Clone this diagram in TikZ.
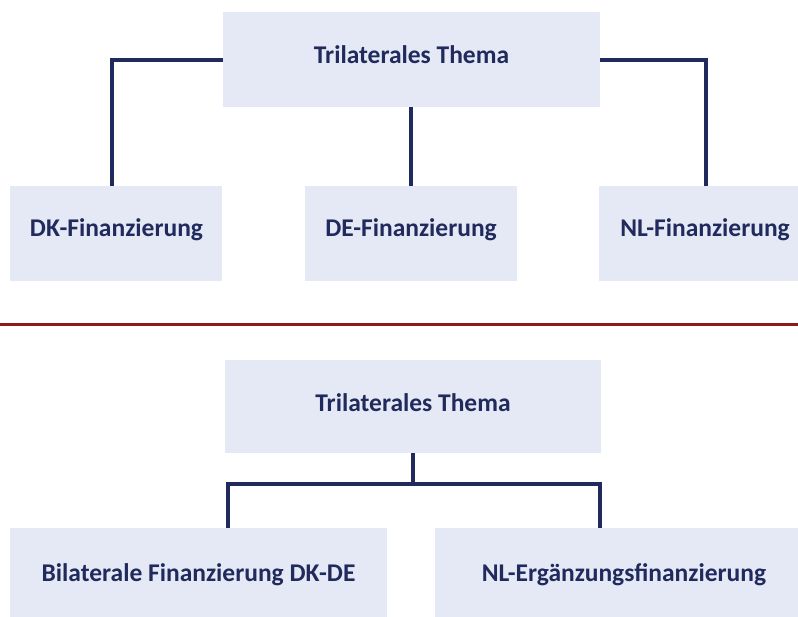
\documentclass[tikz,border=0pt]{standalone}
\usepackage{fontspec}
\setmainfont{Carlito}
\definecolor{boxfill}{HTML}{E4E9F5}
\definecolor{navy}{HTML}{202A5C}
\definecolor{darkred}{HTML}{8E1B1B}
\begin{document}
\begin{tikzpicture}[x=1pt,y=-1pt,
  box/.style={fill=boxfill,draw=none,inner sep=0pt,anchor=north west},
  lbl/.style={text=navy,inner sep=0pt,font=\bfseries\fontsize{25.5}{30}\selectfont},
  conn/.style={draw=navy,line width=4pt}]
\useasboundingbox (0,0) rectangle (798,617);
% top section
\node[box,minimum width=377pt,minimum height=95pt] (t1) at (223,12) {};
\node[lbl] (t1l) at (411.5,55) {Trilaterales Thema};
\node[box,minimum width=212pt,minimum height=95pt] (dk) at (10,186) {};
\node[lbl] (dkl) at (116.5,230) {DK-Finanzierung};
\node[box,minimum width=212pt,minimum height=95pt] (de) at (305,186) {};
\node[lbl] (del) at (411,230) {DE-Finanzierung};
\node[box,minimum width=199pt,minimum height=95pt] (nl) at (599,186) {};
\node[lbl] (nll) at (705,230) {NL-Finanzierung};
\draw[conn] (t1.west |- 0,60) -| (dk.north -| 112,0);
\draw[conn] (t1.east |- 0,60) -| (nl.north -| 706,0);
\draw[conn] (t1.south -| 411,0) -- (de.north -| 411,0);
% separator
\draw[darkred,line width=3pt] (0,325) -- (798,325);
% bottom section
\node[box,minimum width=376pt,minimum height=93pt] (t2) at (225,360) {};
\node[lbl] (t2l) at (413,403) {Trilaterales Thema};
\node[box,minimum width=377pt,minimum height=89pt] (bi) at (10,528) {};
\node[lbl] (bil) at (198.5,575) {Bilaterale Finanzierung DK-DE};
\node[box,minimum width=363pt,minimum height=89pt] (nle) at (435,528) {};
\node[lbl] (nlel) at (624,575) {NL-Ergänzungsfinanzierung};
\coordinate (j) at (413,484);
\draw[conn] (t2.south -| j) -- (j);
\draw[conn] (bi.north -| 228,0) |- (j) -| (nle.north -| 600,0);
\end{tikzpicture}
\end{document}
